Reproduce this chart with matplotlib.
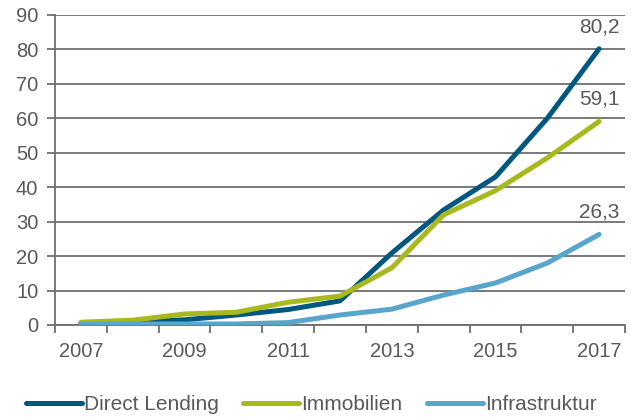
import matplotlib
matplotlib.use("Agg")
import matplotlib.pyplot as plt
import numpy as np

plt.rcParams['font.family'] = ['Liberation Sans', 'DejaVu Sans']

years = [2007, 2008, 2009, 2010, 2011, 2012, 2013, 2014, 2015, 2016, 2017]
direct_lending = [0.5, 1.0, 1.5, 2.9, 4.5, 7.0, 20.9, 33.4, 43.0, 60.0, 80.2]
immobilien = [0.8, 1.4, 3.2, 3.7, 6.6, 8.4, 16.6, 32.0, 39.0, 48.5, 59.1]
infrastruktur = [0.2, 0.3, 0.3, 0.3, 0.7, 2.9, 4.6, 8.7, 12.2, 18.0, 26.3]
end_labels = ["80,2", "59,1", "26,3"]

c_dl = '#00577F'
c_im = '#A7B91C'
c_in = '#58A6CD'
c_grid = '#6D6E71'
c_text = '#595959'

fig = plt.figure(figsize=(6.31, 4.18), dpi=100)
ax = fig.add_axes([55/631, 1-325/418, 570/631, 310/418])

x = np.arange(len(years))
series = [(direct_lending, c_dl, "Direct Lending"),
          (immobilien, c_im, "Immobilien"),
          (infrastruktur, c_in, "Infrastruktur")]
for vals, col, name in series:
    ax.plot(x, vals, color=col, lw=3.6, solid_capstyle='round', label=name, zorder=3)

# value labels at the last year
for (vals, col, name), lab in zip(series, end_labels):
    ax.annotate(lab, (x[-1], vals[-1]), xytext=(0, 9), textcoords='offset points',
                ha='center', va='bottom', fontsize=15, color=c_text)

ax.set_xlim(-0.5, len(years) - 0.5)
ax.set_ylim(0, 90)
ax.set_yticks(np.arange(0, 91, 10))
ax.yaxis.grid(True, color=c_grid, lw=1.3)
ax.set_axisbelow(True)

ax.set_xticks(np.arange(-0.5, len(years), 1))
ax.set_xticklabels([])
ax.set_xticks(x[::2], minor=True)
ax.set_xticklabels([str(y) for y in years[::2]], minor=True)
ax.tick_params(axis='x', which='major', length=6, width=1.3, color=c_grid)
ax.tick_params(axis='x', which='minor', length=0, pad=12, labelsize=14.5, labelcolor=c_text)
ax.tick_params(axis='y', length=6, width=1.3, color=c_grid, labelsize=14.5, labelcolor=c_text, pad=6)

for s in ['top', 'right']:
    ax.spines[s].set_visible(False)
for s in ['left', 'bottom']:
    ax.spines[s].set_color(c_grid)
    ax.spines[s].set_linewidth(1.3)

leg = fig.legend(loc='lower left', bbox_to_anchor=(26/631, 0.009), ncol=3, frameon=False,
                 fontsize=15, handlelength=2.7, handletextpad=0.1, columnspacing=1.15,
                 borderpad=0, borderaxespad=0)
for t in leg.get_texts():
    t.set_color(c_text)
for h in leg.get_lines():
    h.set_linewidth(3.6)
    h.set_solid_capstyle('round')

fig.savefig("out.png", dpi=100)
